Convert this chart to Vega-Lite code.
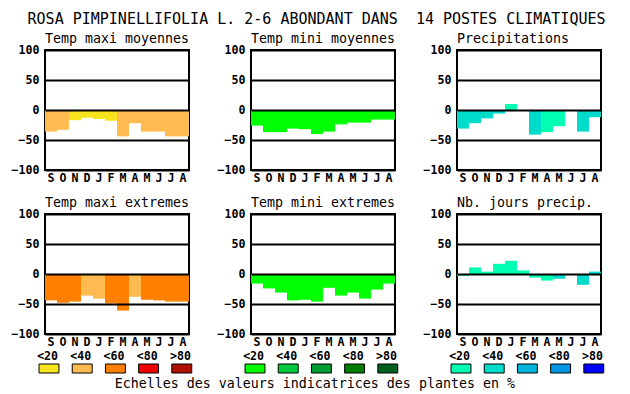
{
  "$schema": "https://vega.github.io/schema/vega-lite/v6.json",
  "background": "white",
  "padding": {"left": 10, "top": 11, "right": 5, "bottom": 5},
  "title": {"text": "ROSA PIMPINELLIFOLIA L. 2-6 ABONDANT DANS \u00a014 POSTES CLIMATIQUES", "font": "DejaVu Sans Mono", "fontSize": 15, "fontWeight": "normal", "anchor": "middle", "frame": "bounds", "color": "black", "offset": 4},
  "datasets": {
    "bars": [
      {"p": "Temp maxi moyennes", "m": "sep", "v": -36, "cls": "maxi<40"},
      {"p": "Temp maxi moyennes", "m": "oct", "v": -33, "cls": "maxi<40"},
      {"p": "Temp maxi moyennes", "m": "nov", "v": -17, "cls": "maxi<20"},
      {"p": "Temp maxi moyennes", "m": "dec", "v": -13, "cls": "maxi<20"},
      {"p": "Temp maxi moyennes", "m": "jan", "v": -15, "cls": "maxi<20"},
      {"p": "Temp maxi moyennes", "m": "fev", "v": -18, "cls": "maxi<20"},
      {"p": "Temp maxi moyennes", "m": "mar", "v": -44, "cls": "maxi<40"},
      {"p": "Temp maxi moyennes", "m": "avr", "v": -22, "cls": "maxi<40"},
      {"p": "Temp maxi moyennes", "m": "mai", "v": -36, "cls": "maxi<40"},
      {"p": "Temp maxi moyennes", "m": "jun", "v": -36, "cls": "maxi<40"},
      {"p": "Temp maxi moyennes", "m": "jul", "v": -44, "cls": "maxi<40"},
      {"p": "Temp maxi moyennes", "m": "aou", "v": -44, "cls": "maxi<40"},
      {"p": "Temp mini moyennes", "m": "sep", "v": -26, "cls": "mini<20"},
      {"p": "Temp mini moyennes", "m": "oct", "v": -37, "cls": "mini<20"},
      {"p": "Temp mini moyennes", "m": "nov", "v": -37, "cls": "mini<20"},
      {"p": "Temp mini moyennes", "m": "dec", "v": -31, "cls": "mini<20"},
      {"p": "Temp mini moyennes", "m": "jan", "v": -32, "cls": "mini<20"},
      {"p": "Temp mini moyennes", "m": "fev", "v": -40, "cls": "mini<20"},
      {"p": "Temp mini moyennes", "m": "mar", "v": -36, "cls": "mini<20"},
      {"p": "Temp mini moyennes", "m": "avr", "v": -24, "cls": "mini<20"},
      {"p": "Temp mini moyennes", "m": "mai", "v": -21, "cls": "mini<20"},
      {"p": "Temp mini moyennes", "m": "jun", "v": -21, "cls": "mini<20"},
      {"p": "Temp mini moyennes", "m": "jul", "v": -16, "cls": "mini<20"},
      {"p": "Temp mini moyennes", "m": "aou", "v": -16, "cls": "mini<20"},
      {"p": "Precipitations", "m": "sep", "v": -31, "cls": "prec<40"},
      {"p": "Precipitations", "m": "oct", "v": -22, "cls": "prec<40"},
      {"p": "Precipitations", "m": "nov", "v": -14, "cls": "prec<40"},
      {"p": "Precipitations", "m": "dec", "v": -6, "cls": "prec<40"},
      {"p": "Precipitations", "m": "jan", "v": 10, "cls": "prec<20"},
      {"p": "Precipitations", "m": "fev", "v": 0, "cls": "prec<20"},
      {"p": "Precipitations", "m": "mar", "v": -41, "cls": "prec<40"},
      {"p": "Precipitations", "m": "avr", "v": -37, "cls": "prec<20"},
      {"p": "Precipitations", "m": "mai", "v": -27, "cls": "prec<20"},
      {"p": "Precipitations", "m": "jun", "v": 0, "cls": "prec<20"},
      {"p": "Precipitations", "m": "jul", "v": -36, "cls": "prec<40"},
      {"p": "Precipitations", "m": "aou", "v": -12, "cls": "prec<40"},
      {"p": "Temp maxi extremes", "m": "sep", "v": -44, "cls": "maxi<60"},
      {"p": "Temp maxi extremes", "m": "oct", "v": -48, "cls": "maxi<60"},
      {"p": "Temp maxi extremes", "m": "nov", "v": -46, "cls": "maxi<60"},
      {"p": "Temp maxi extremes", "m": "dec", "v": -36, "cls": "maxi<40"},
      {"p": "Temp maxi extremes", "m": "jan", "v": -41, "cls": "maxi<40"},
      {"p": "Temp maxi extremes", "m": "fev", "v": -49, "cls": "maxi<60"},
      {"p": "Temp maxi extremes", "m": "mar", "v": -61, "cls": "maxi<60"},
      {"p": "Temp maxi extremes", "m": "avr", "v": -38, "cls": "maxi<40"},
      {"p": "Temp maxi extremes", "m": "mai", "v": -43, "cls": "maxi<60"},
      {"p": "Temp maxi extremes", "m": "jun", "v": -44, "cls": "maxi<60"},
      {"p": "Temp maxi extremes", "m": "jul", "v": -46, "cls": "maxi<60"},
      {"p": "Temp maxi extremes", "m": "aou", "v": -46, "cls": "maxi<60"},
      {"p": "Temp mini extremes", "m": "sep", "v": -16, "cls": "mini<20"},
      {"p": "Temp mini extremes", "m": "oct", "v": -24, "cls": "mini<20"},
      {"p": "Temp mini extremes", "m": "nov", "v": -31, "cls": "mini<20"},
      {"p": "Temp mini extremes", "m": "dec", "v": -44, "cls": "mini<20"},
      {"p": "Temp mini extremes", "m": "jan", "v": -43, "cls": "mini<20"},
      {"p": "Temp mini extremes", "m": "fev", "v": -46, "cls": "mini<20"},
      {"p": "Temp mini extremes", "m": "mar", "v": -23, "cls": "mini<20"},
      {"p": "Temp mini extremes", "m": "avr", "v": -36, "cls": "mini<20"},
      {"p": "Temp mini extremes", "m": "mai", "v": -31, "cls": "mini<20"},
      {"p": "Temp mini extremes", "m": "jun", "v": -41, "cls": "mini<20"},
      {"p": "Temp mini extremes", "m": "jul", "v": -26, "cls": "mini<20"},
      {"p": "Temp mini extremes", "m": "aou", "v": -16, "cls": "mini<20"},
      {"p": "Nb. jours precip.", "m": "sep", "v": -3, "cls": "prec<20"},
      {"p": "Nb. jours precip.", "m": "oct", "v": 11, "cls": "prec<20"},
      {"p": "Nb. jours precip.", "m": "nov", "v": 4, "cls": "prec<20"},
      {"p": "Nb. jours precip.", "m": "dec", "v": 17, "cls": "prec<20"},
      {"p": "Nb. jours precip.", "m": "jan", "v": 22, "cls": "prec<20"},
      {"p": "Nb. jours precip.", "m": "fev", "v": 6, "cls": "prec<20"},
      {"p": "Nb. jours precip.", "m": "mar", "v": -6, "cls": "prec<20"},
      {"p": "Nb. jours precip.", "m": "avr", "v": -11, "cls": "prec<20"},
      {"p": "Nb. jours precip.", "m": "mai", "v": -8, "cls": "prec<40"},
      {"p": "Nb. jours precip.", "m": "jun", "v": 0, "cls": "prec<40"},
      {"p": "Nb. jours precip.", "m": "jul", "v": -18, "cls": "prec<40"},
      {"p": "Nb. jours precip.", "m": "aou", "v": 4, "cls": "prec<40"}
    ],
    "legend": [
      {"e": "maxi", "c": "<20", "cls": "maxi<20"},
      {"e": "maxi", "c": "<40", "cls": "maxi<40"},
      {"e": "maxi", "c": "<60", "cls": "maxi<60"},
      {"e": "maxi", "c": "<80", "cls": "maxi<80"},
      {"e": "maxi", "c": ">80", "cls": "maxi>80"},
      {"e": "mini", "c": "<20", "cls": "mini<20"},
      {"e": "mini", "c": "<40", "cls": "mini<40"},
      {"e": "mini", "c": "<60", "cls": "mini<60"},
      {"e": "mini", "c": "<80", "cls": "mini<80"},
      {"e": "mini", "c": ">80", "cls": "mini>80"},
      {"e": "prec", "c": "<20", "cls": "prec<20"},
      {"e": "prec", "c": "<40", "cls": "prec<40"},
      {"e": "prec", "c": "<60", "cls": "prec<60"},
      {"e": "prec", "c": "<80", "cls": "prec<80"},
      {"e": "prec", "c": ">80", "cls": "prec>80"}
    ]
  },
  "vconcat": [
    {
      "columns": 3,
      "bounds": "flush",
      "spacing": {"row": 44, "column": 62},
      "concat": [
        {"width": 144, "height": 120, "title": "Temp maxi moyennes", "data": {"name": "bars"}, "transform": [{"filter": "datum.p === 'Temp maxi moyennes'"}], "mark": "bar",
         "encoding": {
           "x": {"field": "m", "type": "ordinal", "sort": ["sep","oct","nov","dec","jan","fev","mar","avr","mai","jun","jul","aou"], "scale": {"paddingInner": 0, "paddingOuter": 0}, "title": null, "axis": {"labelExpr": "upper(substring(datum.label, 0, 1))", "labelAngle": 0, "labelPadding": 2}},
           "y": {"field": "v", "type": "quantitative", "scale": {"domain": [-100, 100]}, "title": null, "axis": {"values": [-100, -50, 0, 50, 100], "grid": true, "gridColor": "black", "gridWidth": 2, "gridOpacity": 1, "zindex": 1, "labelPadding": 6}},
           "color": {"field": "cls", "type": "nominal", "legend": null, "scale": {"domain": ["maxi<20","maxi<40","maxi<60","maxi<80","maxi>80","mini<20","mini<40","mini<60","mini<80","mini>80","prec<20","prec<40","prec<60","prec<80","prec>80"], "range": ["#F8E41C","#FFBB4F","#FF8000","#EE0000","#B01000","#00FF00","#00C83C","#009B32","#007D00","#005F1E","#00FFB0","#00DCCC","#00B4DC","#0096E6","#0000FF"]}}
         }},
        {"width": 144, "height": 120, "title": "Temp mini moyennes", "data": {"name": "bars"}, "transform": [{"filter": "datum.p === 'Temp mini moyennes'"}], "mark": "bar",
         "encoding": {
           "x": {"field": "m", "type": "ordinal", "sort": ["sep","oct","nov","dec","jan","fev","mar","avr","mai","jun","jul","aou"], "scale": {"paddingInner": 0, "paddingOuter": 0}, "title": null, "axis": {"labelExpr": "upper(substring(datum.label, 0, 1))", "labelAngle": 0, "labelPadding": 2}},
           "y": {"field": "v", "type": "quantitative", "scale": {"domain": [-100, 100]}, "title": null, "axis": {"values": [-100, -50, 0, 50, 100], "grid": true, "gridColor": "black", "gridWidth": 2, "gridOpacity": 1, "zindex": 1, "labelPadding": 6}},
           "color": {"field": "cls", "type": "nominal", "legend": null}
         }},
        {"width": 144, "height": 120, "title": "Precipitations", "data": {"name": "bars"}, "transform": [{"filter": "datum.p === 'Precipitations'"}], "mark": "bar",
         "encoding": {
           "x": {"field": "m", "type": "ordinal", "sort": ["sep","oct","nov","dec","jan","fev","mar","avr","mai","jun","jul","aou"], "scale": {"paddingInner": 0, "paddingOuter": 0}, "title": null, "axis": {"labelExpr": "upper(substring(datum.label, 0, 1))", "labelAngle": 0, "labelPadding": 2}},
           "y": {"field": "v", "type": "quantitative", "scale": {"domain": [-100, 100]}, "title": null, "axis": {"values": [-100, -50, 0, 50, 100], "grid": true, "gridColor": "black", "gridWidth": 2, "gridOpacity": 1, "zindex": 1, "labelPadding": 6}},
           "color": {"field": "cls", "type": "nominal", "legend": null}
         }},
        {"width": 144, "height": 120, "title": "Temp maxi extremes", "data": {"name": "bars"}, "transform": [{"filter": "datum.p === 'Temp maxi extremes'"}], "mark": "bar",
         "encoding": {
           "x": {"field": "m", "type": "ordinal", "sort": ["sep","oct","nov","dec","jan","fev","mar","avr","mai","jun","jul","aou"], "scale": {"paddingInner": 0, "paddingOuter": 0}, "title": null, "axis": {"labelExpr": "upper(substring(datum.label, 0, 1))", "labelAngle": 0, "labelPadding": 2}},
           "y": {"field": "v", "type": "quantitative", "scale": {"domain": [-100, 100]}, "title": null, "axis": {"values": [-100, -50, 0, 50, 100], "grid": true, "gridColor": "black", "gridWidth": 2, "gridOpacity": 1, "zindex": 1, "labelPadding": 6}},
           "color": {"field": "cls", "type": "nominal", "legend": null}
         }},
        {"width": 144, "height": 120, "title": "Temp mini extremes", "data": {"name": "bars"}, "transform": [{"filter": "datum.p === 'Temp mini extremes'"}], "mark": "bar",
         "encoding": {
           "x": {"field": "m", "type": "ordinal", "sort": ["sep","oct","nov","dec","jan","fev","mar","avr","mai","jun","jul","aou"], "scale": {"paddingInner": 0, "paddingOuter": 0}, "title": null, "axis": {"labelExpr": "upper(substring(datum.label, 0, 1))", "labelAngle": 0, "labelPadding": 2}},
           "y": {"field": "v", "type": "quantitative", "scale": {"domain": [-100, 100]}, "title": null, "axis": {"values": [-100, -50, 0, 50, 100], "grid": true, "gridColor": "black", "gridWidth": 2, "gridOpacity": 1, "zindex": 1, "labelPadding": 6}},
           "color": {"field": "cls", "type": "nominal", "legend": null}
         }},
        {"width": 144, "height": 120, "title": "Nb. jours precip.", "data": {"name": "bars"}, "transform": [{"filter": "datum.p === 'Nb. jours precip.'"}], "mark": "bar",
         "encoding": {
           "x": {"field": "m", "type": "ordinal", "sort": ["sep","oct","nov","dec","jan","fev","mar","avr","mai","jun","jul","aou"], "scale": {"paddingInner": 0, "paddingOuter": 0}, "title": null, "axis": {"labelExpr": "upper(substring(datum.label, 0, 1))", "labelAngle": 0, "labelPadding": 2}},
           "y": {"field": "v", "type": "quantitative", "scale": {"domain": [-100, 100]}, "title": null, "axis": {"values": [-100, -50, 0, 50, 100], "grid": true, "gridColor": "black", "gridWidth": 2, "gridOpacity": 1, "zindex": 1, "labelPadding": 6}},
           "color": {"field": "cls", "type": "nominal", "legend": null}
         }}
      ]
    },
    {
      "bounds": "flush",
      "spacing": 40,
      "title": {"text": "Echelles des valeurs indicatrices des plantes en %", "orient": "bottom", "anchor": "middle", "frame": "bounds", "offset": 3, "dx": -15},
      "hconcat": [
        {"width": 166, "height": 9, "view": {"stroke": null}, "data": {"name": "legend"}, "transform": [{"filter": "datum.e === 'maxi'"}],
         "mark": {"type": "rect", "stroke": "black", "strokeWidth": 1, "xOffset": -12.6},
         "encoding": {
           "x": {"field": "c", "type": "ordinal", "sort": ["<20","<40","<60","<80",">80"], "scale": {"paddingInner": 0.4, "paddingOuter": 0.2}, "title": null, "axis": {"orient": "top", "labelPadding": 3, "labelAngle": 0, "labelOffset": -14}},
           "color": {"field": "cls", "type": "nominal", "legend": null}
         }},
        {"width": 166, "height": 9, "view": {"stroke": null}, "data": {"name": "legend"}, "transform": [{"filter": "datum.e === 'mini'"}],
         "mark": {"type": "rect", "stroke": "black", "strokeWidth": 1, "xOffset": -12.6},
         "encoding": {
           "x": {"field": "c", "type": "ordinal", "sort": ["<20","<40","<60","<80",">80"], "scale": {"paddingInner": 0.4, "paddingOuter": 0.2}, "title": null, "axis": {"orient": "top", "labelPadding": 3, "labelAngle": 0, "labelOffset": -14}},
           "color": {"field": "cls", "type": "nominal", "legend": null}
         }},
        {"width": 166, "height": 9, "view": {"stroke": null}, "data": {"name": "legend"}, "transform": [{"filter": "datum.e === 'prec'"}],
         "mark": {"type": "rect", "stroke": "black", "strokeWidth": 1, "xOffset": -12.6},
         "encoding": {
           "x": {"field": "c", "type": "ordinal", "sort": ["<20","<40","<60","<80",">80"], "scale": {"paddingInner": 0.4, "paddingOuter": 0.2}, "title": null, "axis": {"orient": "top", "labelPadding": 3, "labelAngle": 0, "labelOffset": -14}},
           "color": {"field": "cls", "type": "nominal", "legend": null}
         }}
      ]
    }
  ],
  "spacing": 1,
  "config": {
    "view": {"stroke": "black", "strokeWidth": 2},
    "axis": {"labelFont": "DejaVu Sans Mono", "labelFontWeight": "bold", "labelFontSize": 11.6, "labelColor": "black", "ticks": false, "domain": false, "labelOverlap": false, "labelBound": false, "labelFlush": false},
    "title": {"font": "DejaVu Sans Mono", "fontSize": 13.3, "fontWeight": "normal", "anchor": "start", "frame": "group", "color": "black", "offset": -1}
  }
}
